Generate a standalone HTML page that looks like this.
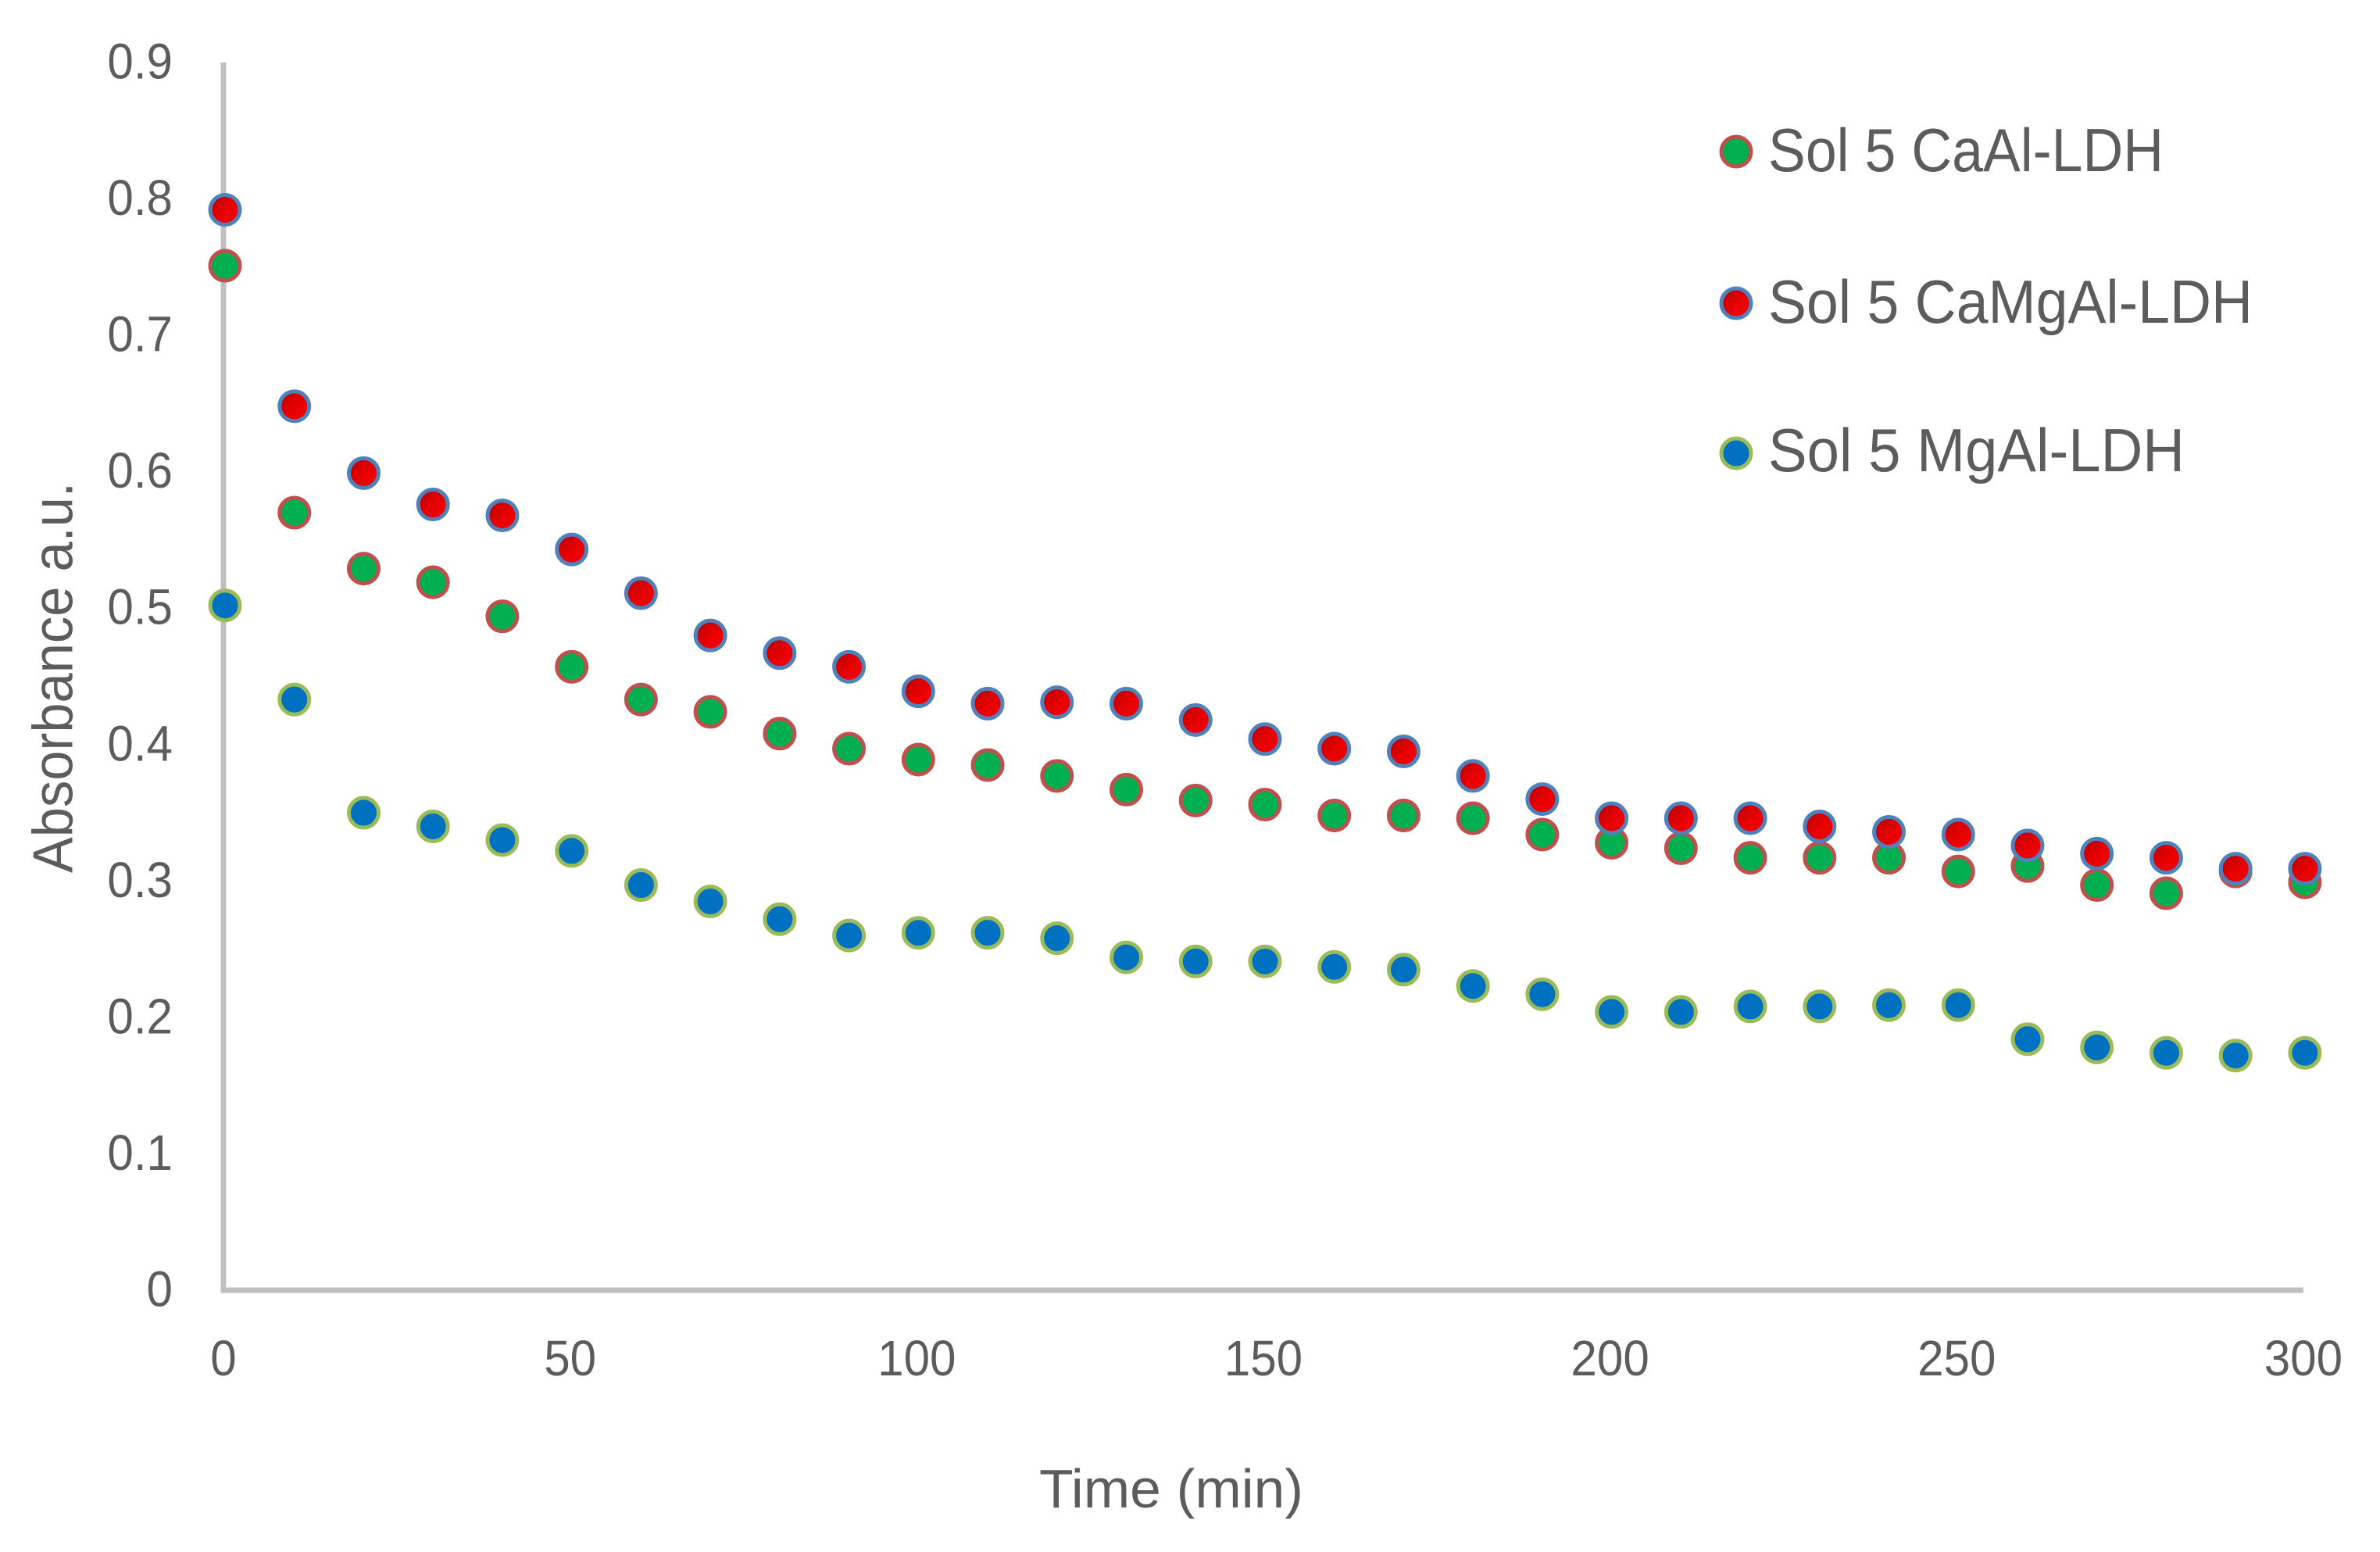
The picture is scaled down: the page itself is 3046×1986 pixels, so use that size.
<!DOCTYPE html>
<html lang="en">
<head>
<meta charset="utf-8">
<title>Absorbance vs Time</title>
<style>
  html, body { margin: 0; padding: 0; background: #ffffff; }
  body { width: 3046px; height: 1986px; overflow: hidden; }
  svg { display: block; }
  text { font-family: "Liberation Sans", sans-serif; fill: #5c5c5c; }
</style>
</head>
<body>
<svg id="chart" xmlns="http://www.w3.org/2000/svg" width="3046" height="1986" viewBox="0 0 3046 1986">
  <defs>
    <linearGradient id="red-fill" x1="0" y1="0" x2="1" y2="1">
      <stop offset="0" stop-color="#b40000"/>
      <stop offset="0.55" stop-color="#ea0000"/>
      <stop offset="1" stop-color="#f60000"/>
    </linearGradient>
  </defs>
  <rect x="0" y="0" width="3046" height="1986" fill="#ffffff"/>
  <g id="axes"></g>
  <g id="marks"></g>
  <text transform="translate(92.5,1117) rotate(-90)" font-size="72" textLength="500" lengthAdjust="spacingAndGlyphs">Absorbance a.u.</text>
  <text x="1330" y="1929" font-size="70" textLength="338" lengthAdjust="spacingAndGlyphs">Time (min)</text>
  <g>
    <g>
      <circle cx="2222" cy="194" r="19" fill="#00b050" stroke="#c0504d" stroke-width="5"/>
      <text x="2263" y="219" font-size="78" textLength="506" lengthAdjust="spacingAndGlyphs">Sol 5 CaAl-LDH</text>
    </g>
    <g>
      <circle cx="2222" cy="388" r="19" fill="url(#red-fill)" stroke="#4f81bd" stroke-width="5"/>
      <text x="2263" y="413" font-size="78" textLength="620" lengthAdjust="spacingAndGlyphs">Sol 5 CaMgAl-LDH</text>
    </g>
    <g>
      <circle cx="2222" cy="580" r="19" fill="#0070c0" stroke="#9bbb59" stroke-width="5"/>
      <text x="2263" y="603" font-size="78" textLength="533" lengthAdjust="spacingAndGlyphs">Sol 5 MgAl-LDH</text>
    </g>
  </g>
</svg>
<script>
const times = [0,10,20,30,40,50,60,70,80,90,100,110,120,130,140,150,160,170,180,190,200,210,220,230,240,250,260,270,280,290,300];
const caAl = [0.751,0.570,0.529,0.519,0.494,0.457,0.433,0.424,0.408,0.397,0.389,0.385,0.377,0.367,0.359,0.356,0.348,0.348,0.346,0.334,0.328,0.324,0.317,0.317,0.317,0.307,0.311,0.297,0.291,0.307,0.299];
const caMgAl = [0.792,0.648,0.599,0.576,0.568,0.543,0.511,0.480,0.467,0.457,0.439,0.430,0.431,0.430,0.418,0.404,0.397,0.395,0.377,0.360,0.346,0.346,0.346,0.340,0.336,0.334,0.326,0.320,0.317,0.309,0.309];
const mgAl = [0.502,0.433,0.350,0.340,0.330,0.322,0.297,0.285,0.272,0.260,0.262,0.262,0.258,0.244,0.241,0.241,0.237,0.235,0.223,0.217,0.204,0.204,0.208,0.208,0.209,0.209,0.184,0.178,0.174,0.172,0.174];
const xTicks = [0,50,100,150,200,250,300];
const yTicks = [0,0.1,0.2,0.3,0.4,0.5,0.6,0.7,0.8,0.9];

const NS = 'http://www.w3.org/2000/svg';
const xScale = function (v) { return 288 + 8.873 * v; };
const yScale = function (v) { return 1651 - 1745.6 * v; };
const axes = document.getElementById('axes');
const marks = document.getElementById('marks');

const yAxis = document.createElementNS(NS, 'rect');


yAxis.setAttribute('x', xScale(0) - 5.5);
yAxis.setAttribute('y', yScale(0.9));
yAxis.setAttribute('width', 7);
yAxis.setAttribute('height', yScale(0) - yScale(0.9) + 3.5);
yAxis.setAttribute('fill', '#bfbfbf');
axes.appendChild(yAxis);

const xAxis = document.createElementNS(NS, 'rect');


xAxis.setAttribute('x', xScale(0) - 5.5);
xAxis.setAttribute('y', yScale(0) - 3.5);
xAxis.setAttribute('width', xScale(300) - xScale(0) + 3.5);
xAxis.setAttribute('height', 7);
xAxis.setAttribute('fill', '#bfbfbf');
axes.appendChild(xAxis);

yTicks.forEach(function (t) {
  const label = document.createElementNS(NS, 'text');
  
  
  label.setAttribute('x', 221);
  label.setAttribute('y', yScale(t) + 20.5);
  label.setAttribute('font-size', 64);
  label.setAttribute('text-anchor', 'end');
  label.textContent = String(t);
  axes.appendChild(label);
  label.setAttribute('textLength', label.getComputedTextLength() * 0.94);
  label.setAttribute('lengthAdjust', 'spacingAndGlyphs');
});

xTicks.forEach(function (t) {
  const label = document.createElementNS(NS, 'text');
  
  
  label.setAttribute('x', xScale(t) - 2);
  label.setAttribute('y', 1760);
  label.setAttribute('font-size', 64);
  label.setAttribute('text-anchor', 'middle');
  label.textContent = String(t);
  axes.appendChild(label);
  label.setAttribute('textLength', label.getComputedTextLength() * 0.94);
  label.setAttribute('lengthAdjust', 'spacingAndGlyphs');
});

function drawSeries(values, seriesName, fill, stroke) {
  values.forEach(function (v, i) {
    const dot = document.createElementNS(NS, 'circle');
    
    
    dot.setAttribute('cx', xScale(times[i]));
    dot.setAttribute('cy', yScale(v));
    dot.setAttribute('r', 19);
    dot.setAttribute('fill', fill);
    dot.setAttribute('stroke', stroke);
    dot.setAttribute('stroke-width', 5);
    marks.appendChild(dot);
  });
}

drawSeries(caAl, 'point-sol5-caal', '#00b050', '#c0504d');
drawSeries(caMgAl, 'point-sol5-camgal', 'url(#red-fill)', '#4f81bd');
drawSeries(mgAl, 'point-sol5-mgal', '#0070c0', '#9bbb59');
</script>
</body>
</html>
